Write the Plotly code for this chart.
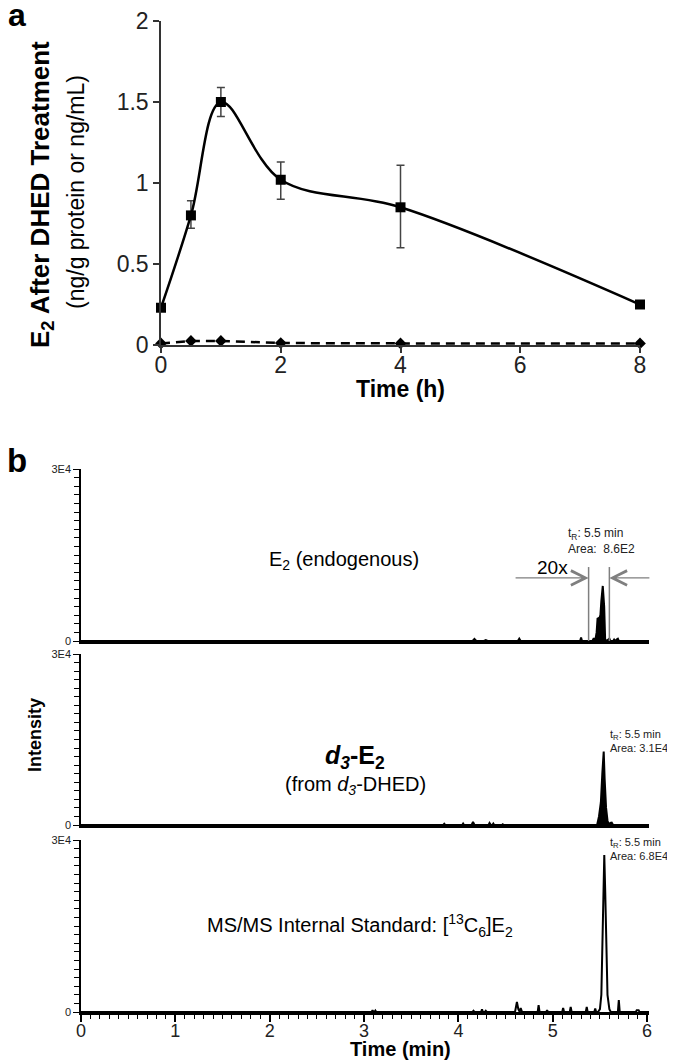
import plotly.graph_objects as go

# The page body keeps an 8px default margin, so the figure is drawn 8px
# smaller and every pixel position below is given in window pixels.
OFF = 8
W, H = 675 - OFF, 1060 - OFF
FONT = "Liberation Sans, Arial, sans-serif"

# ---------------- Panel a data ----------------
time_h = [0, 0.5, 1, 2, 4, 8]
e2_dhed = [0.23, 0.80, 1.50, 1.02, 0.85, 0.25]
e2_err_plus = [0.0, 0.09, 0.09, 0.11, 0.26, 0.0]
e2_err_minus = [0.0, 0.08, 0.09, 0.12, 0.25, 0.0]
e2_control = [0.01, 0.025, 0.025, 0.012, 0.01, 0.01]
top_xticks = [0, 2, 4, 6, 8]
top_yticks = [0, 0.5, 1, 1.5, 2]
top_yticktext = ["0", "0.5", "1", "1.5", "2"]

# ---------------- Panel b data (chromatograms) ----------------
e2_endo_t = [0, 4.15, 4.17, 4.19, 4.27, 4.29, 4.31, 4.63, 4.645, 4.66,
             5.29, 5.30, 5.31, 5.42, 5.435, 5.45,
             5.465, 5.475, 5.49, 5.505, 5.515, 5.53, 5.545, 5.555, 5.57,
             5.60, 5.61, 5.64, 5.65, 5.66, 5.68, 5.69, 5.70, 6.02]
e2_endo_i = [0, 0, 350, 0, 0, 150, 0, 0, 400, 0,
             0, 600, 0, 0, 500, 0,
             1500, 4000, 3800, 4500, 7000, 9600, 6000, 300, 0,
             400, 0, 0, 250, 0, 300, 400, 0, 0]

d3_t = [0, 3.84, 3.85, 3.86, 4.04, 4.05, 4.06, 4.14, 4.155, 4.17,
        4.32, 4.33, 4.345, 4.36, 4.37, 4.38, 4.46, 4.47, 4.48,
        5.19, 5.20, 5.21,
        5.47, 5.49, 5.51, 5.525, 5.54, 5.55, 5.565, 5.58, 5.595,
        5.61, 5.625, 5.64, 6.02]
d3_i = [0, 0, 200, 0, 0, 250, 0, 0, 550, 0,
        0, 350, 0, 0, 250, 0, 0, 120, 0,
        0, 100, 0,
        0, 1500, 4000, 9000, 12900, 8000, 3000, 800, 0,
        350, 400, 0, 0]

is_t = [0, 3.08, 3.09, 3.10, 3.11, 3.12, 3.13,
        4.15, 4.16, 4.17, 4.24, 4.25, 4.26, 4.28, 4.29, 4.30,
        4.60, 4.62, 4.635, 4.65, 4.66, 4.675,
        4.84, 4.85, 4.86, 4.93, 4.94, 4.95,
        5.10, 5.11, 5.12, 5.18, 5.19, 5.20,
        5.35, 5.36, 5.37, 5.44, 5.45, 5.46,
        5.48, 5.50, 5.515, 5.525, 5.535, 5.546, 5.556, 5.566, 5.58, 5.60, 5.615,
        5.69, 5.70, 5.71, 5.88, 5.89, 5.91, 5.92, 6.02]
is_i = [0, 0, 300, 0, 0, 250, 0,
        0, 200, 0, 0, 450, 0, 0, 200, 0,
        0, 1750, 500, 0, 700, 0,
        0, 1200, 0, 0, 300, 0,
        0, 700, 0, 0, 900, 0,
        0, 900, 0, 0, 600, 0,
        0, 500, 3000, 10000, 20000, 27400, 21000, 10000, 3000, 500, 0,
        0, 2100, 0, 0, 300, 300, 0, 0]

window_edges = [5.38, 5.60]      # 20x zoom window in endogenous trace
window_height = 12900
arrow_level = 11000
arrow_tails = [4.59, 6.04]
bottom_xticks = [0, 1, 2, 3, 4, 5, 6]


def fx(p):
    return (p - OFF) / W


def fy(p):
    return 1 - (p - OFF) / H


fig = go.Figure()

# ---- panel a traces ----
fig.add_trace(go.Scatter(
    x=time_h, y=e2_control, mode="lines+markers",
    line=dict(color="black", width=2.5, dash="9px,6px"),
    marker=dict(symbol="diamond", size=9, color="black"),
    cliponaxis=False, xaxis="x", yaxis="y"))
fig.add_trace(go.Scatter(
    x=time_h, y=e2_dhed, mode="lines+markers",
    line=dict(color="black", width=2.5, shape="spline", smoothing=1.0),
    marker=dict(symbol="square", size=10, color="black"),
    error_y=dict(type="data", array=e2_err_plus, arrayminus=e2_err_minus,
                 color="#444444", thickness=1.5, width=4),
    cliponaxis=False, xaxis="x", yaxis="y"))

# ---- panel b traces ----
fig.add_trace(go.Scatter(x=e2_endo_t, y=e2_endo_i, mode="lines",
                         line=dict(color="black", width=2),
                         fill="tozeroy", fillcolor="black",
                         xaxis="x2", yaxis="y2"))
fig.add_trace(go.Scatter(x=d3_t, y=d3_i, mode="lines",
                         line=dict(color="black", width=2),
                         fill="tozeroy", fillcolor="black",
                         xaxis="x3", yaxis="y3"))
fig.add_trace(go.Scatter(x=is_t, y=is_i, mode="lines",
                         line=dict(color="black", width=2),
                         xaxis="x4", yaxis="y4"))

axis_common = dict(showgrid=False, zeroline=False, showline=True,
                   automargin=False)

bx_dom = [fx(81), fx(649)]
bx_range = [0, 6.02]
panel_px = [(469, 641), (654, 825), (840, 1012)]

ychrom = dict(
    **axis_common, range=[0, 30000], tickmode="array", tickvals=[0, 30000],
    ticktext=["0", "3E4"], ticks="outside", ticklen=6, tickwidth=1.3,
    tickcolor="black", linecolor="black", linewidth=1.5,
    tickfont=dict(size=11, color="#222"),
    minor=dict(dtick=1500, tick0=0, ticks="outside", ticklen=5,
               tickwidth=1.3, tickcolor="black"))

layout_axes = dict(
    xaxis=dict(**axis_common, domain=[fx(161), fx(640)], range=[0, 8],
               anchor="y", tickmode="array", tickvals=top_xticks,
               ticks="outside", ticklen=6, tickwidth=1.5, tickcolor="#333",
               linecolor="#333", linewidth=1.5, ticklabelstandoff=-7,
               tickfont=dict(size=23, color="#222")),
    yaxis=dict(**axis_common, domain=[fy(345), fy(21)], range=[0, 2],
               anchor="x", tickmode="array", tickvals=top_yticks,
               ticktext=top_yticktext, ticks="outside", ticklen=6,
               tickwidth=1.5, tickcolor="#333", linecolor="#333",
               linewidth=1.5, tickfont=dict(size=23, color="#222")),
    xaxis2=dict(**axis_common, domain=bx_dom, range=bx_range, anchor="y2",
                linecolor="black", linewidth=2.5, showticklabels=False,
                ticks=""),
    xaxis3=dict(**axis_common, domain=bx_dom, range=bx_range, anchor="y3",
                linecolor="black", linewidth=2.5, showticklabels=False,
                ticks=""),
    xaxis4=dict(**axis_common, domain=bx_dom, range=bx_range, anchor="y4",
                linecolor="black", linewidth=2.5, tickmode="array",
                tickvals=bottom_xticks, ticks="outside", ticklen=7,
                tickwidth=1.5, tickcolor="black", ticklabelstandoff=-6,
                tickfont=dict(size=18, color="#222"),
                minor=dict(dtick=0.1, tick0=0, ticks="outside", ticklen=4,
                           tickwidth=1.3, tickcolor="black")),
    yaxis2=dict(ychrom, domain=[fy(panel_px[0][1]), fy(panel_px[0][0])],
                anchor="x2"),
    yaxis3=dict(ychrom, domain=[fy(panel_px[1][1]), fy(panel_px[1][0])],
                anchor="x3"),
    yaxis4=dict(ychrom, domain=[fy(panel_px[2][1]), fy(panel_px[2][0])],
                anchor="x4"),
)

annotations = []


def label(text, x, y, size, angle=0, xanchor="center", yanchor="middle",
          color="black", align="center"):
    annotations.append(dict(text=text, x=fx(x), y=fy(y), xref="paper",
                            yref="paper", showarrow=False, textangle=angle,
                            xanchor=xanchor, yanchor=yanchor, align=align,
                            font=dict(size=size, color=color, family=FONT)))


label("<b>a</b>", 17, 15, 32)
label("<b>b</b>", 17, 460, 33)
label("<b>E<sub>2</sub> After DHED Treatment</b>", 42, 195, 26, angle=-90)
label("(ng/g protein or ng/mL)", 76, 192, 23, angle=-90)
label("<b>Time (h)</b>", 400, 389, 23)
label("<b>Intensity</b>", 35, 735, 18, angle=-90)
label("<b>Time (min)</b>", 400, 1049, 20)
label("E<sub>2</sub> (endogenous)", 344, 560, 20)
label("<b><i>d</i><sub><i>3</i></sub>-E<sub>2</sub></b>", 355, 757, 25)
label("(from <i>d</i><sub><i>3</i></sub>-DHED)", 355, 785, 20)
label("MS/MS Internal Standard: [<sup>13</sup>C<sub>6</sub>]E<sub>2</sub>",
      360, 925, 20)
label("20x", 552, 567, 19)
label("t<sub>R</sub>: 5.5 min<br>Area:  8.6E2", 566, 541, 12,
      xanchor="left", align="left", color="#222")
label("t<sub>R</sub>: 5.5 min<br>Area: 3.1E4", 608, 741, 11,
      xanchor="left", align="left", color="#222")
label("t<sub>R</sub>: 5.5 min<br>Area: 6.8E4", 608, 849, 11,
      xanchor="left", align="left", color="#222")

# arrows toward the zoom window
for head, tail in zip(window_edges, arrow_tails):
    annotations.append(dict(
        x=head, y=arrow_level, ax=tail, ay=arrow_level,
        xref="x2", yref="y2", axref="x2", ayref="y2", text="",
        showarrow=True, arrowhead=5, arrowsize=2.2, arrowwidth=1.3,
        arrowcolor="#7f7f7f"))

shapes = []
for edge in window_edges:
    shapes.append(dict(type="line", xref="x2", yref="y2", x0=edge, x1=edge,
                       y0=0, y1=window_height,
                       line=dict(color="#7f7f7f", width=1.5)))

fig.update_layout(
    template="none",
    width=W, height=H, margin=dict(l=0, r=0, t=0, b=0, pad=0,
                                   autoexpand=False),
    paper_bgcolor="white", plot_bgcolor="white", showlegend=False,
    font=dict(family=FONT, color="black"),
    annotations=annotations, shapes=shapes, **layout_axes)

fig.write_html("out.html")
